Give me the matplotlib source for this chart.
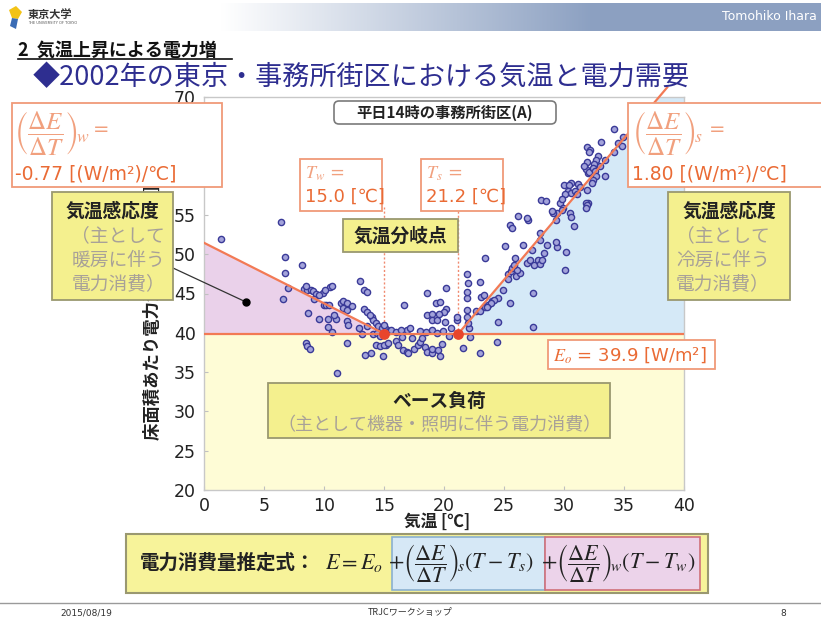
import numpy as np
import matplotlib
matplotlib.use("Agg")
import matplotlib.pyplot as plt
from matplotlib.patches import Rectangle, FancyBboxPatch, Polygon

JP = ["Noto Sans CJK JP", "DejaVu Sans"]
plt.rcParams["font.family"] = ["DejaVu Sans", "Noto Sans CJK JP"]
plt.rcParams["mathtext.fontset"] = "stix"

# ---- regression model (values printed on the chart) ----
base_load = 39.9      # E0 [W/m2]
t_heat = 15.0         # Tw [C]
t_cool = 21.2         # Ts [C]
slope_heat = -0.77    # (dE/dT)w
slope_cool = 1.80     # (dE/dT)s

# ---- observed weekday 14:00 points: temperature [C] / power [W/m2] ----
heat_temp = [1.4, 6.4, 6.75, 6.75, 8.2, 7.0, 6.6, 8.3, 8.6, 8.9, 9.1, 9.9, 10.5, 10.7, 8.5, 9.3, 9.6, 10.1,
             13.0, 13.3, 13.6, 9.2, 10.0, 10.2, 10.4, 11.4, 11.6, 11.9, 11.6, 11.9, 12.3,
             8.7, 9.6, 10.3, 11.0, 11.9, 10.8, 10.3, 10.7, 12.0, 12.9, 13.6,
             13.3, 13.6, 14.0, 14.1, 13.8, 14.3, 14.5, 14.8, 15.2, 15.4, 15.6, 15.0,
             14.1, 14.4, 14.7, 13.2, 8.5, 8.6, 8.8, 11.9, 11.1,
             13.4, 13.9, 14.9, 14.3, 14.7, 15.2]
heat_power = [51.9, 54.1, 49.6, 47.6, 48.6, 45.7, 44.3, 45.6, 45.5, 45.4, 45.3, 45.1, 45.8, 46.0, 45.9, 45.0, 44.8, 45.4,
              46.6, 45.5, 45.2, 44.3, 43.6, 43.5, 43.6, 43.8, 44.1, 43.8, 43.2, 42.9, 43.4,
              42.5, 41.7, 41.8, 41.8, 41.5, 42.3, 40.7, 40.1, 41.0, 40.6, 40.9,
              43.0, 42.6, 42.0, 41.6, 42.3, 41.3, 40.9, 40.6, 40.5, 40.2, 40.3, 41.0,
              39.8, 40.0, 39.6, 39.9, 38.7, 38.3, 38.0, 38.7, 34.9,
              37.2, 37.4, 37.1, 38.5, 38.3, 38.5]

mid_temp = [16.7, 18.6, 20.2, 19.3, 19.7, 20.2, 20.0, 18.6, 19.0, 19.0, 19.4, 19.6, 16.9,
            17.2, 18.0, 18.5, 19.0, 19.4, 19.9, 16.0, 16.4,
            16.0, 16.2, 16.6, 16.9, 17.5, 17.8, 18.0, 18.4, 18.6, 19.0,
            19.0, 19.5, 19.7, 15.0, 15.3, 16.5, 17.3, 17.0, 18.2, 19.8, 20.4, 20.6, 20.1]
mid_power = [43.5, 45.1, 45.7, 43.8, 43.9, 43.0, 42.6, 42.3, 42.4, 41.6, 41.6, 42.4, 40.3,
             40.6, 40.2, 40.1, 40.3, 40.0, 40.2, 40.1, 40.4,
             39.0, 38.4, 37.8, 37.6, 38.0, 38.4, 38.8, 38.2, 37.6, 37.4,
             38.0, 37.8, 37.0, 38.4, 38.7, 39.5, 39.3, 37.4, 39.4, 38.6, 39.6, 40.6, 41.4]

cool_temp = [21.1, 21.1, 21.6, 23.0, 21.9, 21.9, 21.9, 21.9, 22.0, 21.9, 23.0, 23.4, 23.1, 23.3,
             22.7, 23.0, 23.4, 23.7, 24.0, 25.1, 25.5, 25.7, 26.2, 27.0, 28.0,
             25.9, 26.9, 27.2, 27.5, 27.8, 28.0, 28.2, 28.3, 29.4,
             25.3, 25.6, 25.7, 25.3, 26.0, 26.3, 26.1, 25.8, 24.9, 24.5, 24.2, 23.9, 23.6, 25.5,
             27.4, 30.1, 27.4, 24.5, 24.4, 22.2, 22.1, 22.0,
             30.2, 29.4, 29.7, 30.5, 30.0, 30.6, 31.2, 32.0, 32.0,
             34.2, 31.9, 32.2, 32.1, 33.1, 32.8, 32.7, 33.4, 32.5, 33.0, 34.2, 34.5, 34.8, 34.9,
             31.9, 31.8, 32.1, 31.7, 32.4, 32.6, 32.7, 32.4, 32.3, 33.4,
             31.3, 30.4, 30.3, 30.6, 30.9, 30.1, 31.9, 31.1, 29.8, 29.9, 29.8,
             31.8, 31.9, 31.8, 28.1, 28.5, 30.6, 30.8, 29.1, 29.3, 29.0,
             26.9, 28.6, 29.3, 28.0, 27.3, 26.6]
cool_power = [41.6, 42.0, 38.1, 37.4, 42.0, 42.9, 44.4, 45.2, 46.3, 47.5, 46.5, 49.5, 44.6, 44.8,
              42.8, 42.8, 43.3, 43.6, 44.0, 51.0, 53.7, 53.3, 54.8, 54.3, 52.7,
              49.5, 48.9, 49.2, 48.6, 49.3, 48.8, 49.3, 50.2, 50.9,
              47.5, 47.9, 48.3, 46.8, 47.2, 47.6, 48.0, 48.6, 45.4, 44.4, 44.2, 43.8, 43.3, 43.8,
              45.1, 48.0, 40.7, 41.4, 38.8, 39.5, 40.6, 41.3,
              50.3, 55.2, 56.5, 55.2, 58.8, 59.0, 58.9, 60.3, 56.5,
              65.9, 63.6, 63.2, 63.0, 64.3, 62.5, 62.0, 62.0, 61.5, 61.2, 63.0, 64.2, 63.8, 64.9,
              61.7, 60.8, 60.5, 61.2, 61.0, 60.6, 60.0, 59.4, 59.1, 59.9,
              58.5, 58.8, 58.1, 57.8, 58.0, 57.6, 58.2, 57.6, 57.0, 55.9, 55.6,
              56.5, 56.2, 55.9, 56.9, 56.8, 54.7, 53.6, 55.2, 54.3, 55.5,
              54.6, 51.2, 51.5, 51.8, 50.5, 51.2]

x_ticks = [0, 5, 10, 15, 20, 25, 30, 35, 40]
y_ticks = [20, 25, 30, 35, 40, 45, 50, 55, 60, 65, 70]

ORANGE = "#ea6b35"
ORANGE_LIGHT = "#f1a07e"
ORANGE_EDGE = "#f09a78"
YELLOW_BOX = "#f4f08e"
YELLOW_EDGE = "#9a9870"
GRAY_TXT = "#a8a198"

fig = plt.figure(figsize=(8.21, 6.21), dpi=100)
W, H = 821, 621

# ---------------- main chart ----------------
ax = fig.add_axes([204 / W, 1 - 490 / H, 480 / W, 393 / H])
ax.set_xlim(0, 40)
ax.set_ylim(20, 70)

T = np.linspace(0, 40, 801)
model = base_load + slope_heat * np.minimum(T - t_heat, 0) + slope_cool * np.maximum(T - t_cool, 0)

ax.fill_between(T, 20, base_load, color="#fefcd6", lw=0, zorder=1)
hm = T <= t_heat
ax.fill_between(T[hm], base_load, model[hm], color="#ead1ea", lw=0, zorder=1)
cm = T >= t_cool
ax.fill_between(T[cm], base_load, np.minimum(model[cm], 70), color="#d5e9f7", lw=0, zorder=1)

ax.scatter(heat_temp + mid_temp + cool_temp, heat_power + mid_power + cool_power,
           s=20, facecolor="#a3a3da", edgecolor="#3a3a98", linewidth=1.0, zorder=3)

# fitted piecewise line
ax.plot([0, 40], [base_load, base_load], color="#f27a55", lw=1.6, zorder=4)
Th = np.array([0, t_heat])
ax.plot(Th, base_load + slope_heat * (Th - t_heat), color="#f27a55", lw=1.6, zorder=4)
Tc = np.array([t_cool, 38.6])
ax.plot(Tc, base_load + slope_cool * (Tc - t_cool), color="#f27a55", lw=1.6, zorder=4, clip_on=False)
ax.scatter([t_heat, t_cool], [base_load, base_load], s=45, color="#e8452c", zorder=5)
for tb in (t_heat, t_cool):
    ax.plot([tb, tb], [base_load, 56], color="#f08a70", lw=1.0, ls=(0, (1.5, 1.5)), zorder=2)

ax.set_xticks(x_ticks)
ax.set_yticks(y_ticks)
ax.tick_params(direction="in", length=3, color="#c0c0c0", labelsize=12.5, labelcolor="#222222")
ax.tick_params(axis="x", pad=5)
ax.tick_params(axis="y", pad=6)
for sp in ax.spines.values():
    sp.set_color("#c8c8c8")
    sp.set_linewidth(1.0)

# ---------------- slide overlay (pixel coordinates) ----------------
ov = fig.add_axes([0, 0, 1, 1], zorder=10)
ov.set_xlim(0, W)
ov.set_ylim(H, 0)
ov.axis("off")
ov.patch.set_alpha(0)


def rect(x0, y0, x1, y1, fc, ec, lw=1.3, z=5, rounded=False):
    if rounded:
        p = FancyBboxPatch((x0, y0), x1 - x0, y1 - y0, boxstyle="round,pad=0,rounding_size=5",
                           fc=fc, ec=ec, lw=lw, zorder=z)
    else:
        p = Rectangle((x0, y0), x1 - x0, y1 - y0, fc=fc, ec=ec, lw=lw, zorder=z)
    ov.add_patch(p)


# header band with gradient
grad = np.linspace(0, 1, 600)
ramp = np.clip((grad - 0.27) / 0.45, 0, 1)
c0 = np.array([1.0, 1.0, 1.0])
c1 = np.array([0.55, 0.63, 0.76])
img = (c0[None, :] * (1 - ramp[:, None]) + c1[None, :] * ramp[:, None])[None, :, :]
ov.imshow(img, extent=[0, W, 31, 3], aspect="auto", zorder=0)
ov.text(722, 17, "Tomohiko Ihara", color="white", fontsize=9, va="center", zorder=2)
# university mark
ov.add_patch(Polygon([[9, 10], [16, 6], [22, 12], [18, 19], [12, 18]], closed=True, fc="#f3c316", ec="none", zorder=2))
ov.add_patch(Polygon([[12, 18], [18, 19], [16, 29], [10, 26]], closed=True, fc="#3a6cb5", ec="none", zorder=2))
ov.text(28, 14, "東京大学", family=JP, fontsize=8, weight="bold", color="#333333", va="center", zorder=2)
ov.text(28, 23, "THE UNIVERSITY OF TOKYO", fontsize=2.6, color="#555555", va="center", zorder=2)

# headings
ov.text(18, 50, "2  気温上昇による電力増", family=JP, fontsize=13, weight="bold", color="#111111", va="center")
ov.plot([18, 232], [59, 59], color="#111111", lw=1.2)
ov.text(33, 78, "◆2002年の東京・事務所街区における気温と電力需要", family=JP, fontsize=19.5,
        color="#2e2e90", va="center")

# y-axis label (partly hidden behind the callouts)
ov.text(153, 440, "床面積あたり電力消費量 [W/m²]", family=JP, fontsize=12.5, weight="bold",
        color="#222222", rotation=90, ha="center", va="bottom", zorder=1)
ov.text(437, 522, "気温 [℃]", family=JP, fontsize=12, weight="bold", color="#222222",
        ha="center", va="center", zorder=1)

# chart title
rect(334, 101, 556, 124, "white", "#7a7a7a", lw=1.2, rounded=True)
ov.text(445, 112.5, "平日14時の事務所街区(A)", family=JP, fontsize=11, weight="bold",
        color="#222222", ha="center", va="center", zorder=6)

# sensitivity callouts (orange)
rect(12, 103, 222, 187, "white", ORANGE_EDGE)
ov.text(14, 133, r"$\left(\dfrac{\Delta E}{\Delta T}\right)_{\!w}$", fontsize=18, color=ORANGE_LIGHT,
        va="center", zorder=6)
ov.text(93, 130, "=", fontsize=14, color=ORANGE_LIGHT, va="center", zorder=6)
ov.text(15, 174, "-0.77 [(W/m²)/℃]", fontsize=13.5, color=ORANGE, va="center", zorder=6)

rect(628, 103, 822, 187, "white", ORANGE_EDGE)
ov.text(632, 133, r"$\left(\dfrac{\Delta E}{\Delta T}\right)_{\!s}$", fontsize=18, color=ORANGE_LIGHT,
        va="center", zorder=6)
ov.text(709, 130, "=", fontsize=14, color=ORANGE_LIGHT, va="center", zorder=6)
ov.text(632, 174, "1.80 [(W/m²)/℃]", fontsize=13.5, color=ORANGE, va="center", zorder=6)

rect(300, 159, 382, 211, "white", ORANGE_EDGE)
ov.text(305, 174, r"$T_w$ =", fontsize=13, color=ORANGE_LIGHT, va="center", zorder=6)
ov.text(305, 197, "15.0 [℃]", fontsize=13, color=ORANGE, va="center", zorder=6)
rect(421, 159, 503, 211, "white", ORANGE_EDGE)
ov.text(426, 174, r"$T_s$ =", fontsize=13, color=ORANGE_LIGHT, va="center", zorder=6)
ov.text(426, 197, "21.2 [℃]", fontsize=13, color=ORANGE, va="center", zorder=6)

rect(548, 340, 715, 369, "white", ORANGE_EDGE)
ov.text(553, 355, r"$E_o$ = 39.9 [W/m²]", fontsize=13, color=ORANGE, va="center", zorder=6)

# yellow explanation boxes
rect(343, 219, 458, 252, YELLOW_BOX, YELLOW_EDGE)
ov.text(400, 236, "気温分岐点", family=JP, fontsize=13.5, weight="bold", color="#222222",
        ha="center", va="center", zorder=6)

rect(52, 192, 173, 300, YELLOW_BOX, YELLOW_EDGE)
ov.text(112, 211, "気温感応度", family=JP, fontsize=13.5, weight="bold", color="#222222",
        ha="center", va="center", zorder=6)
for yy, s in zip((236, 260, 284), ("（主として", "暖房に伴う", "電力消費）")):
    ov.text(165, yy, s, family=JP, fontsize=13.5, color=GRAY_TXT, ha="right", va="center", zorder=6)

rect(668, 192, 790, 300, YELLOW_BOX, YELLOW_EDGE)
ov.text(729, 211, "気温感応度", family=JP, fontsize=13.5, weight="bold", color="#222222",
        ha="center", va="center", zorder=6)
for yy, s in zip((236, 260, 284), ("（主として", "冷房に伴う", "電力消費）")):
    ov.text(676, yy, s, family=JP, fontsize=13.5, color=GRAY_TXT, ha="left", va="center", zorder=6)

rect(268, 383, 610, 438, YELLOW_BOX, YELLOW_EDGE)
ov.text(439, 401, "ベース負荷", family=JP, fontsize=13.5, weight="bold", color="#222222",
        ha="center", va="center", zorder=6)
ov.text(439, 425, "（主として機器・照明に伴う電力消費）", family=JP, fontsize=13, color=GRAY_TXT,
        ha="center", va="center", zorder=6)

# pointer to the heating region
ov.plot([173, 246], [268, 302], color="#333333", lw=0.9, zorder=4)
ov.plot([246], [302], "o", color="black", ms=5, zorder=4)

# estimation formula bar
rect(126, 534, 708, 593, "#f7f39a", YELLOW_EDGE, lw=1.5)
rect(392, 537, 545, 590, "#d6e8f6", "#8ab0d0", lw=1.2, z=6)
rect(545, 537, 700, 590, "#ecd3ea", "#d0707a", lw=1.2, z=6)
ov.text(140, 563, "電力消費量推定式：", family=JP, fontsize=14, weight="bold", color="#222222",
        va="center", zorder=7)
ov.text(325, 563, r"$E=E_o$", fontsize=16, color="#222222", va="center", zorder=7)
ov.text(388, 563, r"$+\left(\dfrac{\Delta E}{\Delta T}\right)_{\!s}(T-T_s)$", fontsize=16,
        color="#222222", va="center", zorder=7)
ov.text(541, 563, r"$+\left(\dfrac{\Delta E}{\Delta T}\right)_{\!w}(T-T_w)$", fontsize=16,
        color="#222222", va="center", zorder=7)

# footer
ov.plot([0, W], [603, 603], color="#9a9a9a", lw=1.0)
ov.text(60, 613, "2015/08/19", fontsize=6.5, color="#333333", va="center")
ov.text(410, 613, "TRJCワークショップ", family=JP, fontsize=6.5, color="#333333", ha="center", va="center")
ov.text(780, 613, "8", fontsize=6.5, color="#333333", va="center")

fig.savefig("out.png", dpi=100)
